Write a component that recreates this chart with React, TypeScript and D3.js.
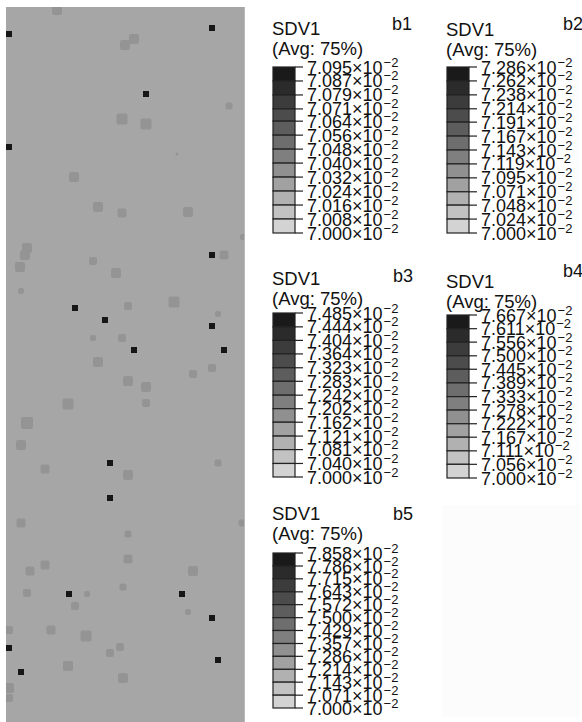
import React from 'react';
import * as d3 from 'd3';

// field plot: dark elements and lighter patches (model units)
const darkX = [3, 206, 140, 3, 206, 69, 99, 206, 128, 218, 104, 104, 63, 176, 206, 3, 212, 15];
const darkY = [27, 21, 87, 140, 248, 301, 313, 319, 343, 343, 456, 491, 587, 587, 611, 641, 653, 665];

const patchX = [51, 119, 128, 223, 116, 140, 171, 68, 92, 116, 182, 237, 21, 19, 14, 87, 110, 218, 15, 122, 168, 212, 87, 116, 92, 206, 187, 122, 140, 140, 62, 21, 15, 39, 212, 122, 15, 236, 122, 122, 24, 39, 187, 21, 117, 81, 69, 182, 3, 45, 80, 104, 114, 62, 117, 3, 3];
const patchY = [3, 38, 32, 99, 112, 117, 147, 170, 200, 206, 205, 230, 241, 248, 260, 254, 266, 248, 284, 299, 295, 307, 331, 331, 355, 361, 367, 374, 380, 396, 397, 416, 438, 462, 456, 468, 516, 516, 527, 552, 564, 558, 564, 586, 580, 587, 599, 605, 623, 623, 629, 646, 640, 659, 671, 681, 691];
const patchS = [10, 10, 10, 7, 11, 11, 3, 10, 10, 9, 10, 6, 10, 10, 10, 8, 10, 9, 6, 8, 11, 6, 6, 8, 10, 8, 8, 10, 10, 8, 11, 12, 10, 9, 7, 10, 9, 7, 7, 9, 9, 9, 10, 8, 7, 6, 8, 6, 8, 9, 11, 8, 8, 10, 10, 10, 8];

// legends
const legendTags = ['b1', 'b2', 'b3', 'b4', 'b5'];
const b1Ticks = ['7.095', '7.087', '7.079', '7.071', '7.064', '7.056', '7.048', '7.040', '7.032', '7.024', '7.016', '7.008', '7.000'];
const b2Ticks = ['7.286', '7.262', '7.238', '7.214', '7.191', '7.167', '7.143', '7.119', '7.095', '7.071', '7.048', '7.024', '7.000'];
const b3Ticks = ['7.485', '7.444', '7.404', '7.364', '7.323', '7.283', '7.242', '7.202', '7.162', '7.121', '7.081', '7.040', '7.000'];
const b4Ticks = ['7.667', '7.611', '7.556', '7.500', '7.445', '7.389', '7.333', '7.278', '7.222', '7.167', '7.111', '7.056', '7.000'];
const b5Ticks = ['7.858', '7.786', '7.715', '7.643', '7.572', '7.500', '7.429', '7.357', '7.286', '7.214', '7.143', '7.071', '7.000'];
const allTicks = [b1Ticks, b2Ticks, b3Ticks, b4Ticks, b5Ticks];

// layout of each legend block
const blocks = [
  { x: 273, titleY: 35, top: 67, bottom: 233, tagX: 392, tagY: 30 },
  { x: 447, titleY: 36, top: 67, bottom: 233, tagX: 563, tagY: 30 },
  { x: 273, titleY: 285, top: 313, bottom: 477, tagX: 393, tagY: 282 },
  { x: 447, titleY: 288, top: 315, bottom: 478, tagX: 563, tagY: 277 },
  { x: 273, titleY: 520, top: 553, bottom: 708, tagX: 393, tagY: 520 },
];

const font = 'Liberation Sans, Arial, sans-serif';
const barW = 22;

const Legend = ({ ticks, b, tag }: { ticks: string[]; b: typeof blocks[0]; tag: string }) => {
  const vals = ticks.map(Number);
  const y = d3.scaleLinear().domain([d3.min(vals)!, d3.max(vals)!]).range([b.bottom, b.top]);
  const shade = d3.scaleLinear<string>().domain([0, ticks.length - 2]).range(['#1a1a1a', '#d3d3d3']);
  return (
    <g fontFamily={font} fill="#111">
      <text x={b.x - 1} y={b.titleY} fontSize={18.5}>SDV1</text>
      <text x={b.x - 1} y={b.titleY + 20} fontSize={18.5}>(Avg: 75%)</text>
      <text x={b.tagX} y={b.tagY} fontSize={18}>{tag}</text>
      {vals.slice(0, -1).map((v, i) => (
        <rect key={i} x={b.x} y={y(v)} width={barW} height={y(vals[i + 1]) - y(v)}
          fill={shade(i)} stroke="#222" strokeWidth={1.2} />
      ))}
      {vals.map((v, i) => (
        <g key={'t' + i}>
          <line x1={b.x + barW} x2={b.x + barW + 8} y1={y(v)} y2={y(v)} stroke="#222" strokeWidth={1.2} />
          <text x={b.x + barW + 12} y={y(v) + 6.5} fontSize={18}>
            {ticks[i]}×10<tspan fontSize={13} dx={1} dy={-7}>−2</tspan>
          </text>
        </g>
      ))}
    </g>
  );
};

const App = () => {
  const x = d3.scaleLinear().domain([0, 239]).range([6, 245]);
  const y = d3.scaleLinear().domain([0, 715]).range([7, 722]);
  return (
    <svg width={582} height={722} style={{ position: 'fixed', left: 0, top: 0, background: '#fff' }}>
      <defs>
        <filter id="soft" x="-50%" y="-50%" width="200%" height="200%">
          <feGaussianBlur stdDeviation={0.7} />
        </filter>
        <clipPath id="field">
          <rect x={x(0)} y={y(0)} width={x(239) - x(0)} height={y(715) - y(0)} />
        </clipPath>
      </defs>
      <rect x={442} y={505} width={138} height={212} fill="#fcfcfc" />
      <rect x={x(0)} y={y(0)} width={x(239) - x(0)} height={y(715) - y(0)} fill="#a6a6a6" />
      <g clipPath="url(#field)">
        <g filter="url(#soft)">
          {patchX.map((px, i) => (
            <rect key={i} x={x(px) - patchS[i] / 2} y={y(patchY[i]) - patchS[i] / 2}
              width={patchS[i]} height={patchS[i]} rx={2} fill="#949494" />
          ))}
        </g>
        <g filter="url(#soft)">
          {darkX.map((dx, i) => (
            <rect key={i} x={x(dx) - 3} y={y(darkY[i]) - 3} width={6} height={6} fill="#161616" />
          ))}
        </g>
      </g>
      <line x1={x(239) - 0.5} x2={x(239) - 0.5} y1={y(0)} y2={y(715)} stroke="#b8b8b8" strokeWidth={1} />
      {allTicks.map((t, i) => (
        <Legend key={i} ticks={t} b={blocks[i]} tag={legendTags[i]} />
      ))}
    </svg>
  );
};

export default App;
